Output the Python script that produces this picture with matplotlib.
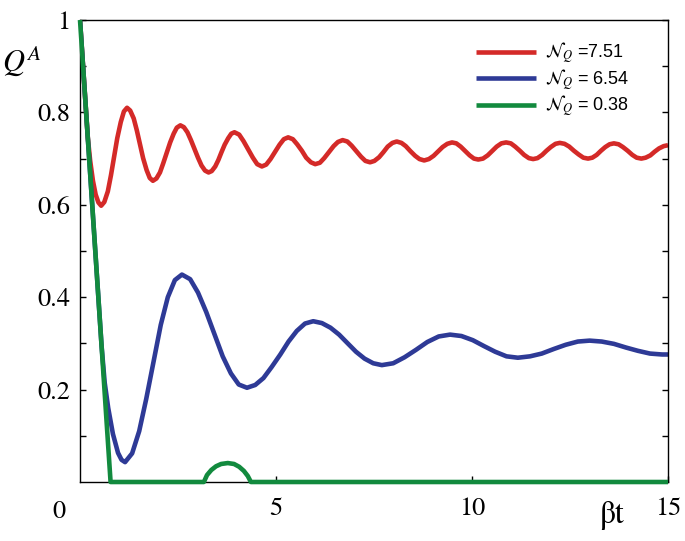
import matplotlib
matplotlib.use("Agg")
import matplotlib.pyplot as plt
from matplotlib.ticker import FixedLocator

plt.rcParams['font.family'] = ['Liberation Sans', 'DejaVu Sans']
plt.rcParams['mathtext.fontset'] = 'stix'

# values (beta*t, Q^A)
t_red = [0.0, 0.20, 0.26, 0.33, 0.40, 0.47, 0.54,
         0.62, 0.71, 0.79, 0.87, 0.95, 1.04, 1.12, 1.20,
         1.28, 1.37, 1.45, 1.53, 1.61, 1.70, 1.78, 1.86,
         1.95, 2.04, 2.12, 2.21, 2.30, 2.39, 2.47, 2.56,
         2.65, 2.74, 2.83, 2.92, 3.01, 3.10, 3.19, 3.28,
         3.36, 3.45, 3.53, 3.61, 3.69, 3.78, 3.86, 3.94,
         4.06, 4.17, 4.29, 4.41, 4.52, 4.64,
         4.75, 4.86, 4.98, 5.09, 5.20, 5.31,
         5.43, 5.54, 5.66, 5.77, 5.89, 6.00,
         6.12, 6.23, 6.35, 6.47, 6.58, 6.70,
         6.82, 6.93, 7.05, 7.17, 7.28, 7.40,
         7.51, 7.63, 7.74, 7.85, 7.97, 8.08,
         8.20, 8.31, 8.43, 8.55, 8.66, 8.78,
         8.90, 9.02, 9.14, 9.25, 9.37, 9.49,
         9.60, 9.71, 9.83, 9.94, 10.05, 10.16,
         10.28, 10.40, 10.52, 10.63, 10.75, 10.87,
         10.99, 11.10, 11.22, 11.33, 11.45, 11.56,
         11.67, 11.79, 11.90, 12.01, 12.13, 12.24,
         12.36, 12.48, 12.60, 12.72, 12.84, 12.96,
         13.07, 13.18, 13.29, 13.40, 13.51, 13.62,
         13.74, 13.85, 13.97, 14.09, 14.20, 14.32,
         14.43, 14.55, 14.66, 14.77, 14.89, 15.0]
q_red = [1.0, 0.745, 0.695, 0.652, 0.622, 0.605, 0.598,
         0.606, 0.629, 0.664, 0.704, 0.744, 0.779, 0.802, 0.810,
         0.804, 0.787, 0.761, 0.731, 0.701, 0.675, 0.658, 0.652,
         0.657, 0.670, 0.689, 0.712, 0.735, 0.754, 0.767, 0.772,
         0.768, 0.757, 0.740, 0.721, 0.702, 0.685, 0.674, 0.670,
         0.673, 0.683, 0.697, 0.714, 0.730, 0.744, 0.754, 0.757,
         0.752, 0.738, 0.720, 0.702, 0.688, 0.683,
         0.687, 0.699, 0.715, 0.730, 0.742, 0.746,
         0.742, 0.731, 0.717, 0.702, 0.692, 0.688,
         0.691, 0.701, 0.714, 0.727, 0.736, 0.740,
         0.737, 0.728, 0.716, 0.704, 0.695, 0.692,
         0.695, 0.703, 0.714, 0.726, 0.734, 0.737,
         0.734, 0.727, 0.716, 0.706, 0.699, 0.696,
         0.699, 0.706, 0.716, 0.725, 0.732, 0.735,
         0.733, 0.726, 0.716, 0.707, 0.700, 0.698,
         0.700, 0.707, 0.717, 0.726, 0.733, 0.735,
         0.733, 0.726, 0.717, 0.708, 0.701, 0.699,
         0.701, 0.708, 0.717, 0.725, 0.732, 0.734,
         0.732, 0.726, 0.717, 0.709, 0.702, 0.700,
         0.702, 0.708, 0.717, 0.725, 0.731, 0.733,
         0.731, 0.725, 0.717, 0.708, 0.702, 0.700,
         0.702, 0.707, 0.715, 0.722, 0.727, 0.729]

t_blue = [0.0, 0.55, 0.63, 0.72, 0.84, 0.97, 1.06, 1.15,
          1.33, 1.51, 1.69, 1.88, 2.06, 2.24, 2.42, 2.60,
          2.81, 3.01, 3.22, 3.43, 3.64, 3.85, 4.05, 4.26,
          4.47, 4.68, 4.89, 5.11, 5.32, 5.53, 5.74, 5.95,
          6.17, 6.39, 6.61, 6.83, 7.04, 7.26, 7.48, 7.70,
          7.99, 8.28, 8.57, 8.86, 9.15, 9.44,
          9.73, 10.02, 10.31, 10.59, 10.88, 11.17,
          11.48, 11.78, 12.09, 12.39, 12.70, 13.00,
          13.31, 13.62, 13.93, 14.23, 14.54, 14.85, 15.0]
q_blue = [1.0, 0.295, 0.215, 0.160, 0.104, 0.063, 0.048, 0.043,
          0.062, 0.110, 0.180, 0.262, 0.340, 0.400, 0.437, 0.449,
          0.439, 0.410, 0.368, 0.320, 0.272, 0.235, 0.211, 0.204,
          0.210, 0.225, 0.249, 0.276, 0.304, 0.327, 0.343, 0.348,
          0.344, 0.334, 0.319, 0.300, 0.282, 0.267, 0.257, 0.253,
          0.257, 0.270, 0.286, 0.303, 0.315, 0.319,
          0.316, 0.307, 0.294, 0.282, 0.272, 0.269,
          0.272, 0.278, 0.288, 0.297, 0.304, 0.306,
          0.304, 0.299, 0.291, 0.284, 0.278, 0.276, 0.276]

t_green = [0.0, 0.78, 3.16, 3.24, 3.35, 3.47, 3.60, 3.77,
           3.93, 4.06, 4.18, 4.28, 4.36, 15.0]
q_green = [1.0, 0.0, 0.0, 0.015, 0.026, 0.034, 0.039, 0.041,
           0.039, 0.033, 0.024, 0.013, 0.0, 0.0]

labels = [r'$\mathcal{N}_Q$ =7.51', r'$\mathcal{N}_Q$ = 6.54', r'$\mathcal{N}_Q$ = 0.38']
colors = ['#d42a28', '#2e3a96', '#128a3e']
serif = 'STIXGeneral'

fig = plt.figure(figsize=(6.85, 5.41), dpi=100)
ax = fig.add_axes([80 / 685, 59 / 541, 588 / 685, 462 / 541])

style = dict(lw=3.3, solid_capstyle='butt', solid_joinstyle='round')
ax.plot(t_red, q_red, color=colors[0], label=labels[0], **style)
ax.plot(t_blue, q_blue, color=colors[1], label=labels[1], **style)
ax.plot(t_green, q_green, color=colors[2], label=labels[2], clip_on=False,
        zorder=3, **style)

ax.set_xlim(0, 15)
ax.set_ylim(0, 1)

ax.set_xticks([5, 10, 15])
ax.set_xticklabels(['5', '10', '15'])
ax.set_yticks([0.2, 0.4, 0.6, 0.8, 1.0])
ax.set_yticklabels(['0.2', '0.4', '0.6', '0.8', '1'])
ax.yaxis.set_minor_locator(FixedLocator([0.1, 0.3, 0.5, 0.7, 0.9]))
ax.tick_params(axis='y', which='both', direction='in', left=True, right=True,
               length=4, width=1, labelsize=19, pad=7, labelfontfamily=serif)
ax.tick_params(axis='x', which='both', direction='in', length=4, width=1,
               labelsize=19, pad=11, labelfontfamily=serif)

for sp in ax.spines.values():
    sp.set_linewidth(1.0)

fig.text(59 / 685, 1 - 512 / 541, '0', fontsize=19, family=serif,
         ha='center', va='center')
fig.text(612 / 685, 1 - 515 / 541, 'βt', fontsize=23, family=serif,
         ha='center', va='center')
fig.text(2 / 685, 1 - 62 / 541, r'$Q^A$', fontsize=22, ha='left', va='center')

leg = ax.legend(loc='upper right', bbox_to_anchor=(0.962, 0.99), frameon=False,
                fontsize=13, handlelength=3.3, handletextpad=0.5, labelspacing=0.1)

fig.savefig('out.png', dpi=100)
